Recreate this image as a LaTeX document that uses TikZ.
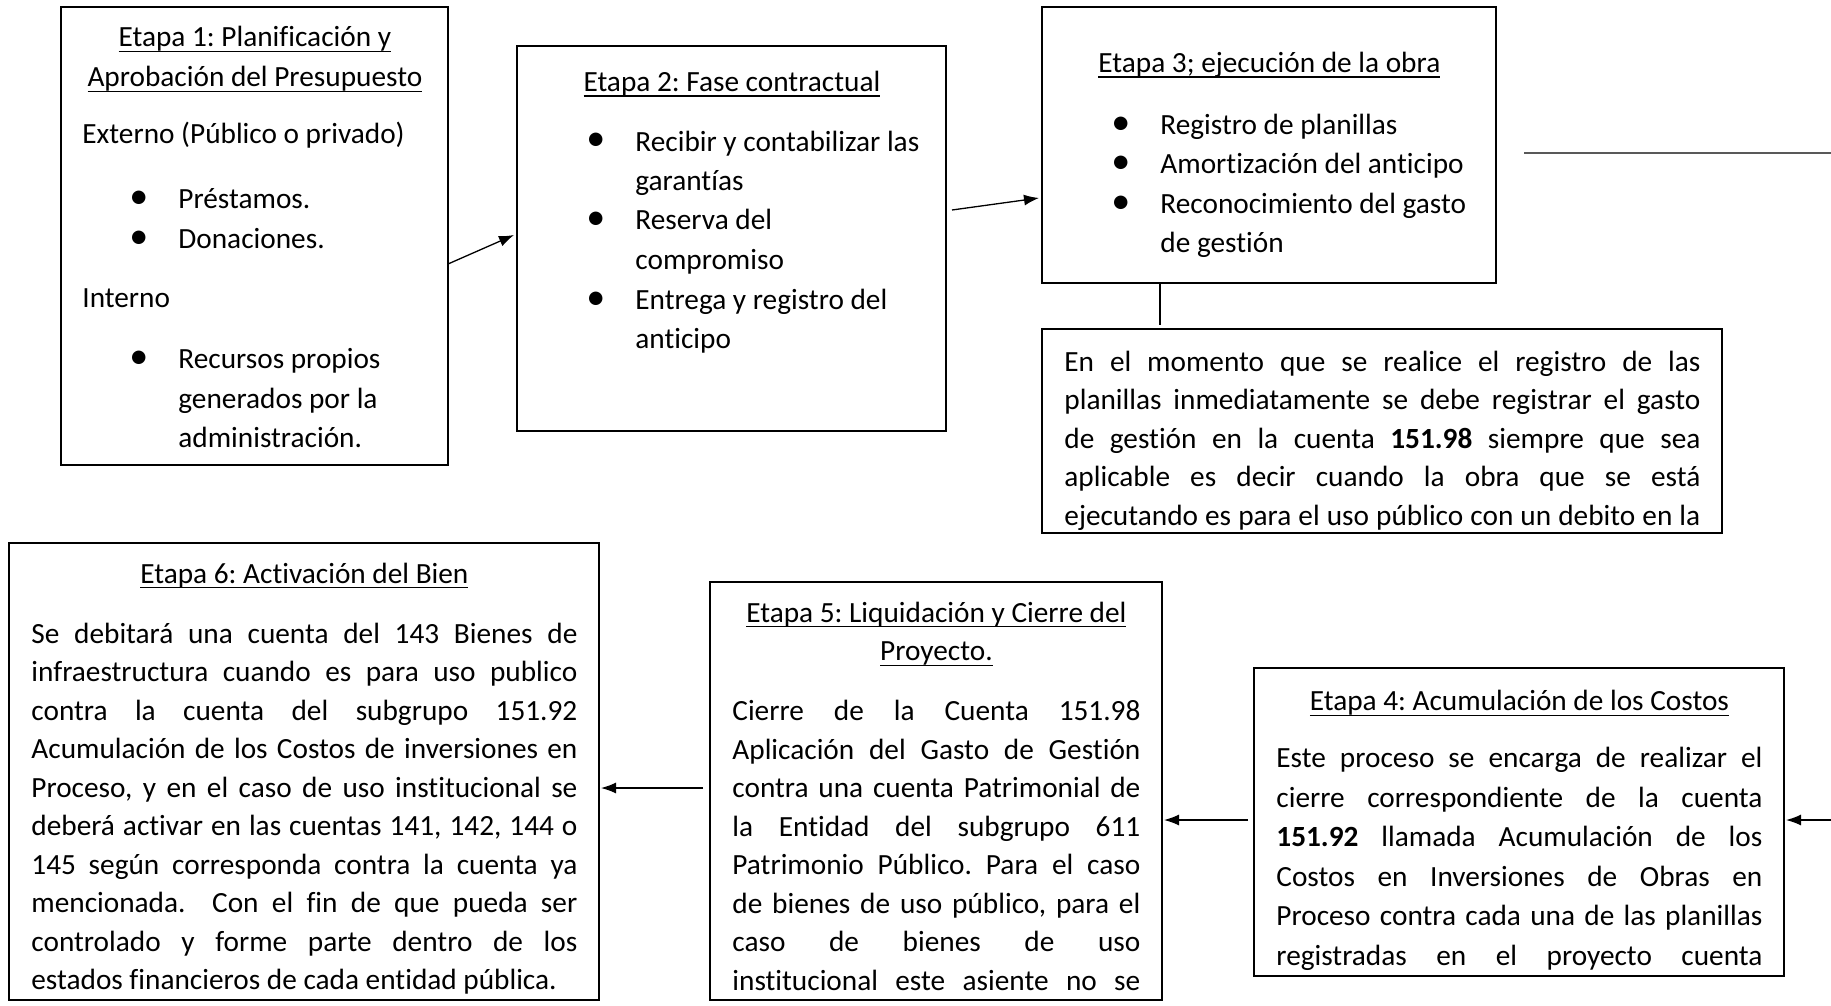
\documentclass[tikz,border=0pt]{standalone}
\usepackage{fontspec}
\setmainfont{Carlito}[Ligatures=NoCommon]
\usepackage{graphicx}
\usepackage{tikz}
\usetikzlibrary{arrows.meta}
\definecolor{grislinea}{HTML}{595959}
\frenchspacing
\tolerance=10000
\hbadness=10000
\hyphenpenalty=10000
\lineskiplimit=-20pt
\newcommand{\subrayado}[1]{\leavevmode\setbox0=\hbox{#1}\rlap{\rule[-2.6pt]{\wd0}{0.6pt}}\box0}
\newcommand{\vineta}[1]{\par\noindent\hangindent=48pt\hangafter=1\hbox to 48pt{\hspace{23.5pt}\scalebox{1.3}{\textbullet}\hfil}#1}
\tikzset{
	etapa/.style={draw=black, line width=0.9pt, anchor=north west, inner sep=0pt, outer sep=0pt},
	texto/.style={anchor=base west, inner sep=0pt, font=\fontsize{14.65pt}{19.25pt}\selectfont},
	textoamplio/.style={texto, font=\fontsize{14.65pt}{19.75pt}\selectfont},
	flecha/.style={draw=black, line width=0.65pt, -{Latex[length=7.5pt,width=5.5pt]}},
	enlace/.style={draw=black, line width=0.6pt},
	enlacegris/.style={draw=grislinea, line width=0.8pt},
}

\begin{document}
\begin{tikzpicture}[x=0.5pt, y=-0.5pt]
	\useasboundingbox (0,0) rectangle (1831,1006);
	% cajas
	\node[etapa, minimum width=193.5pt, minimum height=229pt] (e1) at (61,7) {};
	\node[etapa, minimum width=214.5pt, minimum height=192.5pt] (e2) at (517,46) {};
	\node[etapa, minimum width=227pt, minimum height=138pt] (e3) at (1042,7) {};
	\node[etapa, minimum width=340pt, minimum height=102pt] (nota) at (1042,329) {};
	\node[etapa, minimum width=295pt, minimum height=228.5pt] (e6) at (9,543) {};
	\node[etapa, minimum width=226pt, minimum height=209pt] (e5) at (710,582) {};
	\node[etapa, minimum width=265pt, minimum height=154pt] (e4) at (1254,668) {};

	\node[textoamplio] (t1) at ([shift={(21,40)}]e1.north west) {\parbox[t]{172.5pt}{\raggedright
		\centerline{\subrayado{Etapa 1: Planificación y}}
		\centerline{\subrayado{Aprobación del Presupuesto}}
		\vspace{8.75pt}
		\noindent Externo (Público o privado)\par
		\vspace{13pt}
		\vineta{Préstamos.}
		\vineta{Donaciones.}\par
		\vspace{10pt}
		\noindent Interno\par
		\vspace{10.6pt}
		\vineta{Recursos propios\newline generados por la\newline administración.}}};
	\node[textoamplio] (t2) at ([shift={(22,45.5)}]e2.north west) {\parbox[t]{192.5pt}{\raggedright
		\centerline{\subrayado{Etapa 2: Fase contractual}}
		\vspace{10pt}
		\vineta{Recibir y contabilizar las\newline garantías}
		\vineta{Reserva del\newline compromiso}
		\vineta{Entrega y registro del\newline anticipo}}};
	\node[textoamplio] (t3) at ([shift={(22,65.5)}]e3.north west) {\parbox[t]{205pt}{\raggedright
		\centerline{\subrayado{Etapa 3; ejecución de la obra}}
		\vspace{11.25pt}
		\vineta{Registro de planillas}
		\vineta{Amortización del anticipo}
		\vineta{Reconocimiento del gasto\newline de gestión}}};
	\begin{scope}
		\clip ([shift={(1,1)}]nota.north west) rectangle ([shift={(-1,-1)}]nota.south east);
		\node[texto] (tn) at ([shift={(22,42)}]nota.north west) {\parbox[t]{318pt}{\parfillskip=0pt
			\noindent En el momento que se realice el registro de las\linebreak
			planillas inmediatamente se debe registrar el gasto\linebreak
			de gestión en la cuenta \textbf{151.98} siempre que sea\linebreak
			aplicable es decir cuando la obra que se está\linebreak
			ejecutando es para el uso público con un debito en la}};
	\end{scope}
	\node[texto] (t6) at ([shift={(22,40)}]e6.north west) {\parbox[t]{273pt}{
		\centerline{\subrayado{Etapa 6: Activación del Bien}}
		\vspace{10.75pt}
		\noindent Se debitará una cuenta del 143 Bienes de\linebreak
		infraestructura cuando es para uso publico\linebreak
		contra la cuenta del subgrupo 151.92\linebreak
		Acumulación de los Costos de inversiones en\linebreak
		Proceso, y en el caso de uso institucional se\linebreak
		deberá activar en las cuentas 141, 142, 144 o\linebreak
		145 según corresponda contra la cuenta ya\linebreak
		mencionada.\ \ Con el fin de que pueda ser\linebreak
		controlado y forme parte dentro de los\linebreak
		estados financieros de cada entidad pública.}};
	\node[texto] (t5) at ([shift={(22,40)}]e5.north west) {\parbox[t]{204pt}{
		\centerline{\subrayado{Etapa 5: Liquidación y Cierre del}}
		\centerline{\subrayado{Proyecto.}}
		\vspace{10.75pt}
		\parfillskip=0pt
		\noindent Cierre de la Cuenta 151.98\linebreak
		Aplicación del Gasto de Gestión\linebreak
		contra una cuenta Patrimonial de\linebreak
		la Entidad del subgrupo 611\linebreak
		Patrimonio Público. Para el caso\linebreak
		de bienes de uso público, para el\linebreak
		caso de bienes de uso\linebreak
		institucional este asiente no se}};
	\node[textoamplio] (t4) at ([shift={(22,42.5)}]e4.north west) {\parbox[t]{243pt}{
		\centerline{\subrayado{Etapa 4: Acumulación de los Costos}}
		\vspace{8.75pt}
		\parfillskip=0pt
		\noindent Este proceso se encarga de realizar el\linebreak
		cierre correspondiente de la cuenta\linebreak
		\textbf{151.92} llamada Acumulación de los\linebreak
		Costos en Inversiones de Obras en\linebreak
		Proceso contra cada una de las planillas\linebreak
		registradas en el proyecto cuenta}};

	% conectores
	\draw[flecha] ([shift={(0,257)}]e1.north east) -- ([shift={(-3,189)}]e2.north west);
	\draw[flecha] ([shift={(6,164)}]e2.north east) -- ([shift={(-3,191)}]e3.north west);
	\coordinate (fin3) at (1831,153);
	\draw[enlacegris] ([shift={(28,146)}]e3.north east) -- (fin3);
	\draw[enlace] ([shift={(118,0)}]e3.south west) -- ([shift={(118,-4)}]nota.north west);
	\coordinate (borde) at (1831,820);
	\draw[flecha, shorten >=1pt] (borde) -- (borde -| e4.east);
	\coordinate (s4) at ([shift={(-6,152)}]e4.north west);
	\draw[flecha, shorten >=1pt] (s4) -- (s4 -| e5.east);
	\coordinate (s5) at ([shift={(-7,206)}]e5.north west);
	\draw[flecha, shorten >=1pt] (s5) -- (s5 -| e6.east);
\end{tikzpicture}
\end{document}
